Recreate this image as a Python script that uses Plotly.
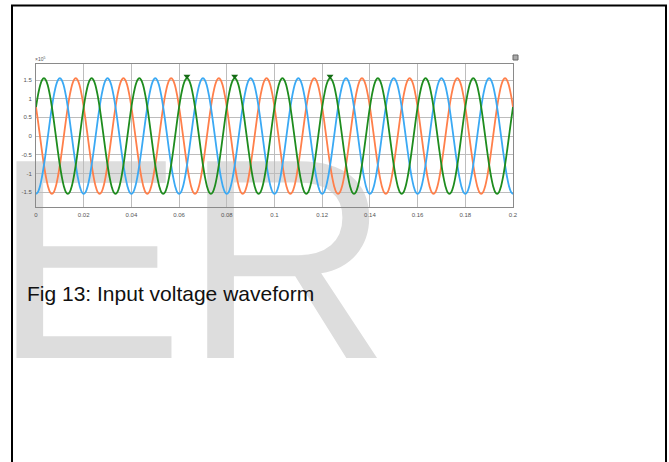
import plotly.graph_objects as go

# ---------------- data ----------------
period = 0.02            # s, 50 Hz
n_cycles = 10
samples_per_cycle = 24   # one sample every 15 degrees
# one cycle of each phase (x 10^5), starting at t = 0
phase_blue = [-1.55, -1.497, -1.342, -1.096, -0.775, -0.401, 0.0, 0.401, 0.775, 1.096, 1.342, 1.497,
              1.55, 1.497, 1.342, 1.096, 0.775, 0.401, 0.0, -0.401, -0.775, -1.096, -1.342, -1.497]
phase_green = [0.775, 1.096, 1.342, 1.497, 1.55, 1.497, 1.342, 1.096, 0.775, 0.401, 0.0, -0.401,
               -0.775, -1.096, -1.342, -1.497, -1.55, -1.497, -1.342, -1.096, -0.775, -0.401, 0.0, 0.401]
phase_orange = [0.775, 0.401, 0.0, -0.401, -0.775, -1.096, -1.342, -1.497, -1.55, -1.497, -1.342, -1.096,
                -0.775, -0.401, 0.0, 0.401, 0.775, 1.096, 1.342, 1.497, 1.55, 1.497, 1.342, 1.096]
marker_t = [0.0633, 0.0833, 0.1233]
marker_v = [1.6, 1.6, 1.6]
x_ticks = [0, 0.02, 0.04, 0.06, 0.08, 0.1, 0.12, 0.14, 0.16, 0.18, 0.2]
x_tick_labels = ["0", "0.02", "0.04", "0.06", "0.08", "0.1", "0.12", "0.14", "0.16", "0.18", "0.2"]
y_ticks = [-1.5, -1, -0.5, 0, 0.5, 1, 1.5]
y_tick_labels = ["-1.5", "-1", "-0.5", "0", "0.5", "1", "1.5"]
caption = "Fig 13: Input voltage waveform"
watermark = "ER"

# ---------------- build series ----------------
n_pts = n_cycles * samples_per_cycle + 1
t = [i * period / samples_per_cycle for i in range(n_pts)]


def tile(cycle):
    return [cycle[i % len(cycle)] for i in range(n_pts)]


# ---------------- layout helpers ----------------
W, H = 669, 462
PL, PR, PT, PB = 36, 513, 64, 207


def px(x):
    return (x - PL) / (PR - PL)


def py(y):
    return (PB - y) / (PB - PT)


fig = go.Figure()
fig.add_trace(go.Scatter(x=t, y=tile(phase_orange), mode="lines", line=dict(color="#FF7F4A", width=1.8, shape="spline"), hoverinfo="skip"))
fig.add_trace(go.Scatter(x=t, y=tile(phase_blue), mode="lines", line=dict(color="#3AA9F4", width=1.8, shape="spline"), hoverinfo="skip"))
fig.add_trace(go.Scatter(x=t, y=tile(phase_green), mode="lines", line=dict(color="#1E8C1E", width=1.8, shape="spline"), hoverinfo="skip"))
fig.add_trace(go.Scatter(x=marker_t, y=marker_v, mode="markers",
                         marker=dict(symbol="triangle-down", size=6, color="#156b15"), hoverinfo="skip"))

shapes = [
    # watermark (below traces and grid)
    dict(type="rect", xref="paper", yref="paper", layer="below",
         x0=px(-10), x1=px(420), y0=py(150), y1=py(392),
         line=dict(width=0), fillcolor="rgba(0,0,0,0)",
         label=dict(text=watermark, textposition="bottom left", padding=0,
                    font=dict(family="Liberation Sans, Arial", size=286, color="#dddddd"))),
    # page frame
    dict(type="line", xref="paper", yref="paper", x0=px(12), x1=px(12), y0=py(5), y1=py(470),
         line=dict(color="black", width=2), layer="above"),
    dict(type="line", xref="paper", yref="paper", x0=px(11), x1=px(667), y0=py(5.5), y1=py(5.5),
         line=dict(color="black", width=2), layer="above"),
    dict(type="line", xref="paper", yref="paper", x0=px(666), x1=px(666), y0=py(5), y1=py(470),
         line=dict(color="black", width=2), layer="above"),
    # small scope icon top right
    dict(type="rect", xref="paper", yref="paper", x0=px(513), x1=px(518), y0=py(60), y1=py(55),
         line=dict(color="#666", width=1), fillcolor="#aaaaaa", layer="above"),
]

annotations = [
    dict(text=caption, xref="paper", yref="paper", x=px(24.5), y=py(293), xanchor="left", yanchor="middle",
         showarrow=False, font=dict(family="Liberation Sans, Arial", size=21, color="#111111")),
    dict(text="\u00d710<sup>5</sup>", xref="paper", yref="paper", x=px(33), y=py(59), xanchor="left",
         yanchor="middle", showarrow=False, font=dict(family="Liberation Sans, Arial", size=5, color="#555555")),
]

axis_font = dict(family="Liberation Sans, Arial", size=6, color="#555555")
fig.update_layout(
    width=W, height=H, autosize=False,
    margin=dict(l=PL, r=W - PR, t=PT, b=H - PB, pad=0),
    paper_bgcolor="white", plot_bgcolor="rgba(255,255,255,0)",
    showlegend=False,
    shapes=shapes, annotations=annotations,
    xaxis=dict(range=[0, 0.2], tickvals=x_ticks, ticktext=x_tick_labels, showgrid=True,
               gridcolor="#bdbdbd", gridwidth=1, showline=True, mirror=True, linecolor="#8a8a8a",
               linewidth=1, zeroline=False, ticks="", tickfont=axis_font, ticklabelstandoff=2),
    yaxis=dict(range=[-1.9, 1.93], tickvals=y_ticks, ticktext=y_tick_labels, showgrid=True,
               gridcolor="#bdbdbd", gridwidth=1, showline=True, mirror=True, linecolor="#8a8a8a",
               linewidth=1, zeroline=False, ticks="", tickfont=axis_font, ticklabelstandoff=2),
)

fig.write_html("out.html", config={"displayModeBar": False},
               post_script="document.body.style.margin='0';document.body.style.overflow='hidden';")
